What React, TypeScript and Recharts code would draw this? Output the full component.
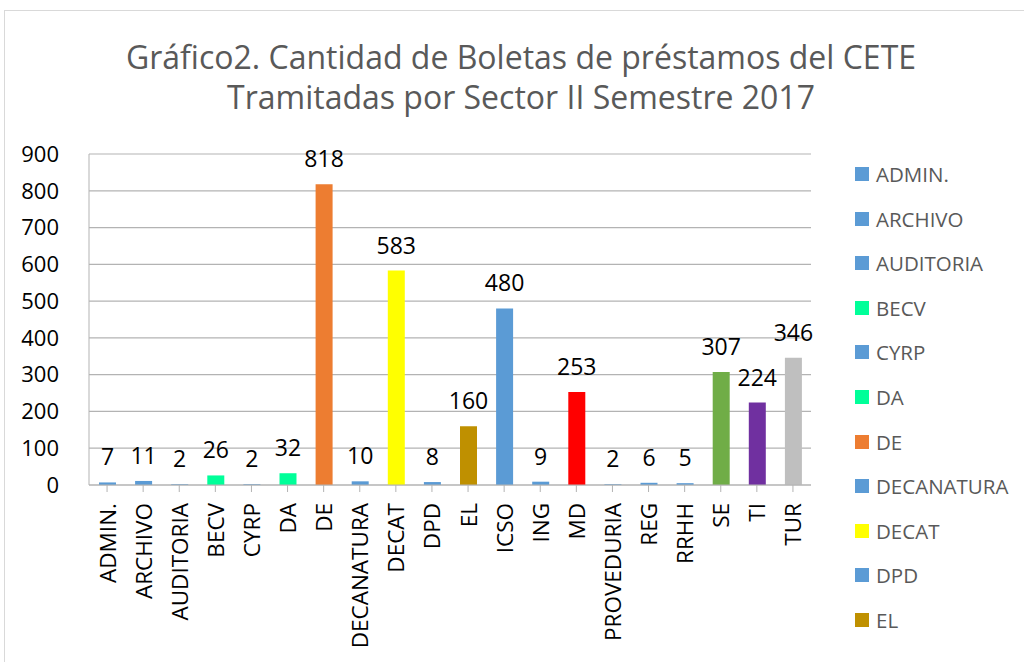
import React from "react";
import { BarChart, Bar, XAxis, YAxis, CartesianGrid, Cell, LabelList } from "recharts";

const categories = ["ADMIN.", "ARCHIVO", "AUDITORIA", "BECV", "CYRP", "DA", "DE", "DECANATURA", "DECAT", "DPD", "EL", "ICSO", "ING", "MD", "PROVEDURIA", "REG", "RRHH", "SE", "TI", "TUR"];
const values = [7, 11, 2, 26, 2, 32, 818, 10, 583, 8, 160, 480, 9, 253, 2, 6, 5, 307, 224, 346];
const colors = ["#5B9BD5", "#5B9BD5", "#5B9BD5", "#00FF99", "#5B9BD5", "#00FF99", "#ED7D31", "#5B9BD5", "#FFFF00", "#5B9BD5", "#BF9000", "#5B9BD5", "#5B9BD5", "#FF0000", "#5B9BD5", "#5B9BD5", "#5B9BD5", "#70AD47", "#7030A0", "#BFBFBF"];
const yTicks = [0, 100, 200, 300, 400, 500, 600, 700, 800, 900];
const titleLines = ["Gráfico2. Cantidad de Boletas de préstamos del CETE", "Tramitadas por Sector II Semestre 2017"];
const visibleLegendCount = 11;

const data = categories.map((c, i) => ({ name: c, value: values[i], color: colors[i] }));

const FONT = "'Open Sans', 'DejaVu Sans', sans-serif";

const XTick = (props: any) => {
  const { x, y, payload } = props;
  return (
    <text x={x} y={y + 9} transform={`rotate(-90 ${x} ${y + 9})`} textAnchor="end" dominantBaseline="central" fontSize={22.5} fill="#000" fontFamily={FONT}>
      {payload.value}
    </text>
  );
};

export default function App() {
  return (
    <div style={{ position: "absolute", left: 0, top: 0, width: 1024, height: 662, background: "#fff", overflow: "hidden", fontFamily: FONT }}>
      <div style={{ position: "absolute", left: 4, top: 10, width: 1030, height: 660, border: "1px solid #D9D9D9", boxSizing: "border-box" }} />
      <div style={{ position: "absolute", left: 0, top: 37, width: 1042, textAlign: "center", color: "#595959", fontSize: 32, lineHeight: "40px" }}>
        {titleLines.map((t) => (
          <div key={t}>{t}</div>
        ))}
      </div>
      <div style={{ position: "absolute", left: 0, top: 0 }}>
        <BarChart width={1024} height={662} data={data} margin={{ top: 154, right: 213, bottom: 0, left: 0 }} barSize={17}>
          <CartesianGrid vertical={false} stroke="#B3B3B3" strokeWidth={1.2} />
          <XAxis dataKey="name" interval={0} height={177} tick={<XTick />} tickLine={{ stroke: "#B3B3B3" }} axisLine={{ stroke: "#B3B3B3" }} tickSize={7} />
          <YAxis width={89} domain={[0, 900]} ticks={yTicks} interval={0} axisLine={{ stroke: "#B3B3B3" }} tickLine={false} tick={{ fontSize: 22, fill: "#000", fontFamily: FONT }} tickMargin={24} />
          <Bar dataKey="value" isAnimationActive={false}>
            {data.map((d) => (
              <Cell key={d.name} fill={d.color} />
            ))}
            <LabelList dataKey="value" position="top" offset={17} fontSize={23} fill="#000" fontFamily={FONT} />
          </Bar>
        </BarChart>
      </div>
      {data.slice(0, visibleLegendCount).map((d, i) => (
        <div key={d.name} style={{ position: "absolute", left: 855, top: 174 + i * 44.6 - 13, height: 26, display: "flex", alignItems: "center", color: "#595959", fontSize: 20.5 }}>
          <span style={{ display: "inline-block", width: 14, height: 14, background: d.color, marginRight: 7 }} />
          <span>{d.name}</span>
        </div>
      ))}
    </div>
  );
}
